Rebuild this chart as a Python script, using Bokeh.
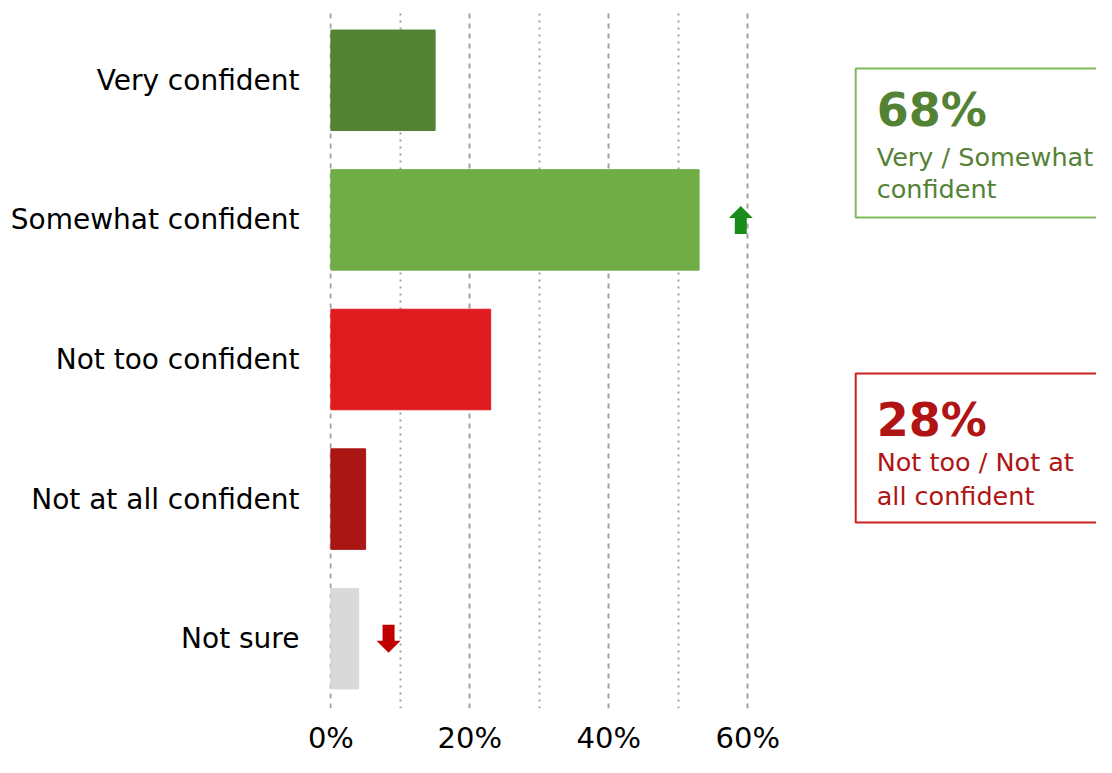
from bokeh.plotting import figure
from bokeh.models import FactorRange, Range1d, FixedTicker, ColumnDataSource
from bokeh.core.properties import value
from bokeh.embed import file_html
from bokeh.resources import INLINE

# ---- data ----
categories = ["Very confident", "Somewhat confident", "Not too confident",
              "Not at all confident", "Not sure"]
values = [15, 53, 23, 5, 4]
bar_colors = ["#548235", "#70AD47", "#E01B1E", "#A91614", "#D9D9D9"]
tick_values = [0, 20, 40, 60]
tick_labels = ["0%", "20%", "40%", "60%"]
minor_values = [10, 30, 50]

# change arrows (category, x position, direction)
arrow_cats = ["Somewhat confident", "Not sure"]
arrow_x = [59.0, 8.3]
arrow_dir = ["up", "down"]
arrow_colors = ["#1A8C1A", "#C00000"]

# summary boxes
box_big = ["68%", "28%"]
box_line1 = ["Very / Somewhat", "Not too / Not at"]
box_line2 = ["confident", "all confident"]
box_text_colors = ["#548235", "#B01414"]
box_border_colors = ["#80B95C", "#C8201E"]

FONT = "DejaVu Sans"
W, H = 1096, 757
LEFT, TOP, BOTTOM = 329, 10, 49
X_START, X_END = -0.2, 110.2

p = figure(width=W, height=H, output_backend="svg", toolbar_location=None,
           y_range=FactorRange(factors=categories[::-1], range_padding=0, factor_padding=0),
           x_range=Range1d(X_START, X_END),
           min_border_left=LEFT, min_border_right=0, min_border_top=TOP,
           min_border_bottom=BOTTOM)
p.outline_line_color = None
p.background_fill_color = "white"
p.border_fill_color = "white"

# grid
p.ygrid.grid_line_color = None
p.xgrid.ticker = FixedTicker(ticks=tick_values, minor_ticks=minor_values)
p.xgrid.grid_line_color = "#A0A0A0"
p.xgrid.grid_line_width = 2
p.xgrid.grid_line_dash = "5 5"
p.xgrid.minor_grid_line_color = "#A0A0A0"
p.xgrid.minor_grid_line_width = 2
p.xgrid.minor_grid_line_dash = "2 5"

# axes
p.xaxis.ticker = FixedTicker(ticks=tick_values)
p.xaxis.major_label_overrides = {v: l for v, l in zip(tick_values, tick_labels)}
for ax in (p.xaxis[0], p.yaxis[0]):
    ax.axis_line_color = None
    ax.major_tick_line_color = None
    ax.minor_tick_line_color = None
    ax.major_tick_out = 0
    ax.major_tick_in = 0
    ax.minor_tick_out = 0
    ax.minor_tick_in = 0
    ax.major_label_text_font = FONT
    ax.major_label_text_color = "#000000"
p.yaxis.major_label_text_font_size = "28px"
p.xaxis.major_label_text_font_size = "29px"
p.xaxis.major_label_standoff = 12
p.yaxis.major_label_standoff = 30

# bars
src = ColumnDataSource(dict(cat=categories, val=values, color=bar_colors))
p.hbar(y="cat", left=0, right="val", height=0.72, color="color", source=src)

# arrows (block arrows built from pixel dimensions)
frame_w = W - LEFT
px_x = frame_w / (X_END - X_START)      # px per x unit
px_y = (H - TOP - BOTTOM) / len(categories)  # px per category
n = len(categories)
xs, ys = [], []
for c, xc, d in zip(arrow_cats, arrow_x, arrow_dir):
    yc = n - categories.index(c) - 0.5
    sw, hw, sh, hh = 6 / px_x, 12 / px_x, 16 / px_y, 12 / px_y
    s = 1 if d == "up" else -1
    y0 = yc - s * (sh + hh) / 2
    y1 = y0 + s * sh
    y2 = y1 + s * hh
    xs.append([xc - sw, xc + sw, xc + sw, xc + hw, xc, xc - hw, xc - sw])
    ys.append([y0, y0, y1, y1, y2, y1, y1])
p.patches(xs, ys, color=arrow_colors, line_width=0)

# summary boxes
box_left = 75.54
box_tops = [4.585, 2.400]
box_bottoms = [3.517, 1.332]
p.quad(left=box_left, right=X_END + 20, top=box_tops, bottom=box_bottoms,
       fill_color=None, line_color=box_border_colors, line_width=2)
tx = 78.56
big_y = [4.284, 2.070]
l1_y = [3.954, 1.769]
l2_y = [3.718, 1.519]
p.text(x=tx, y=big_y, text=box_big, text_color=box_text_colors,
       text_font=value(FONT), text_font_style="bold", text_font_size="46px",
       text_baseline="alphabetic")
p.text(x=tx, y=l1_y, text=box_line1, text_color=box_text_colors,
       text_font=value(FONT), text_font_size="25.5px", text_baseline="alphabetic")
p.text(x=tx, y=l2_y, text=box_line2, text_color=box_text_colors,
       text_font=value(FONT), text_font_size="25.5px", text_baseline="alphabetic")

open("out.html", "w").write(file_html(p, INLINE))
